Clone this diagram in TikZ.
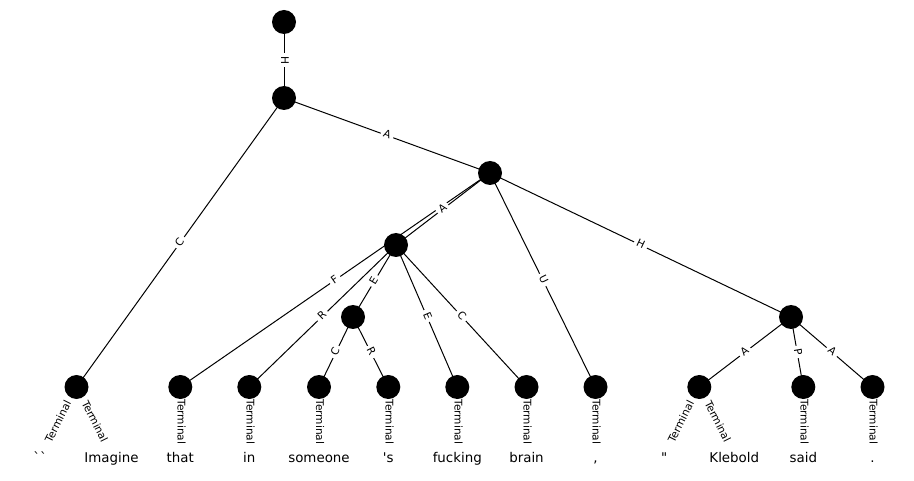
\documentclass[tikz,border=0pt]{standalone}
\usepackage{fontspec}
\newfontfamily\dv{DejaVu Sans}
\begin{document}
\begin{tikzpicture}[x=1pt,y=-1pt,
  vtx/.style={circle, fill=black, minimum size=24pt, inner sep=0pt},
  edg/.style={line width=1pt, black},
  lbl/.style={fill=white, rounded corners=2pt, inner xsep=3pt, inner ysep=1.5pt,
    font=\dv\fontsize{10.6}{13}\selectfont, text height=8.1pt, text depth=2.5pt},
  word/.style={fill=white, inner xsep=1pt, inner ysep=0pt, anchor=base,
    font=\dv\fontsize{13.4}{16}\selectfont, text height=19.6pt, text depth=3.5pt}]
\useasboundingbox (0,0) rectangle (914,481);
% vertex positions
\coordinate (top) at (284,22);
\coordinate (n1) at (284,98);
\coordinate (n2) at (490,173);
\coordinate (n3) at (396,245);
\coordinate (n4) at (353,317);
\coordinate (n5) at (791,317);
\coordinate (L1) at (76.5,387);
\coordinate (L2) at (180.3,387);
\coordinate (L3) at (249.3,387);
\coordinate (L4) at (319,387);
\coordinate (L5) at (388.3,387);
\coordinate (L6) at (457.3,387);
\coordinate (L7) at (526.5,387);
\coordinate (L8) at (595.5,387);
\coordinate (L9) at (699.3,387);
\coordinate (L10) at (803.3,387);
\coordinate (L11) at (872.5,387);
% word positions
\coordinate (w1) at (41.5,457);
\coordinate (w2) at (111.5,457);
\coordinate (w3) at (180.3,457);
\coordinate (w4) at (249.3,457);
\coordinate (w5) at (319,457);
\coordinate (w6) at (388.3,457);
\coordinate (w7) at (457.3,457);
\coordinate (w8) at (526.5,457);
\coordinate (w9) at (595.5,457);
\coordinate (w10) at (664.3,457);
\coordinate (w11) at (734.3,457);
\coordinate (w12) at (803.3,457);
\coordinate (w13) at (872.5,457);
% edges
\draw[edg] (top) -- (n1);
\draw[edg] (n1) -- (n2);
\draw[edg] (n1) -- (L1);
\draw[edg] (n2) -- (n3);
\draw[edg] (n2) -- (L2);
\draw[edg] (n2) -- (L8);
\draw[edg] (n2) -- (n5);
\draw[edg] (n3) -- (L3);
\draw[edg] (n3) -- (n4);
\draw[edg] (n3) -- (L6);
\draw[edg] (n3) -- (L7);
\draw[edg] (n4) -- (L4);
\draw[edg] (n4) -- (L5);
\draw[edg] (n5) -- (L9);
\draw[edg] (n5) -- (L10);
\draw[edg] (n5) -- (L11);
% edge labels
\path (top) -- (n1) node[midway, rotate=-90, lbl] (eH1) {H};
\path (n1) -- (n2) node[midway, sloped, lbl] (eA1) {A};
\path (n1) -- (L1) node[midway, sloped, lbl] (eC1) {C};
\path (n2) -- (n3) node[midway, sloped, lbl] (eA2) {A};
\path (n2) -- (L2) node[midway, sloped, lbl] (eF) {F};
\path (n2) -- (L8) node[midway, sloped, lbl] (eU) {U};
\path (n2) -- (n5) node[midway, sloped, lbl] (eH2) {H};
\path (n3) -- (L3) node[midway, sloped, lbl] (eR1) {R};
\path (n3) -- (n4) node[midway, sloped, lbl] (eE1) {E};
\path (n3) -- (L6) node[midway, sloped, lbl] (eE2) {E};
\path (n3) -- (L7) node[midway, sloped, lbl] (eC2) {C};
\path (n4) -- (L4) node[midway, sloped, lbl] (eC3) {C};
\path (n4) -- (L5) node[midway, sloped, lbl] (eR2) {R};
\path (n5) -- (L9) node[midway, sloped, lbl] (eA3) {A};
\path (n5) -- (L10) node[midway, sloped, lbl] (eP) {P};
\path (n5) -- (L11) node[midway, sloped, lbl] (eA4) {A};
% terminal labels
\path (L1) -- (w1) node[midway, sloped, lbl] (t1) {Terminal};
\path (L1) -- (w2) node[midway, sloped, lbl] (t2) {Terminal};
\path (L2) -- (w3) node[midway, rotate=-90, lbl] (t3) {Terminal};
\path (L3) -- (w4) node[midway, rotate=-90, lbl] (t4) {Terminal};
\path (L4) -- (w5) node[midway, rotate=-90, lbl] (t5) {Terminal};
\path (L5) -- (w6) node[midway, rotate=-90, lbl] (t6) {Terminal};
\path (L6) -- (w7) node[midway, rotate=-90, lbl] (t7) {Terminal};
\path (L7) -- (w8) node[midway, rotate=-90, lbl] (t8) {Terminal};
\path (L8) -- (w9) node[midway, rotate=-90, lbl] (t9) {Terminal};
\path (L9) -- (w10) node[midway, sloped, lbl] (t10) {Terminal};
\path (L9) -- (w11) node[midway, sloped, lbl] (t11) {Terminal};
\path (L10) -- (w12) node[midway, rotate=-90, lbl] (t12) {Terminal};
\path (L11) -- (w13) node[midway, rotate=-90, lbl] (t13) {Terminal};
% words
\node[word, text height=15pt] (x1) at (40,462.3) {\char"60\char"60};
\node[word] (x2) at (111.5,462.3) {Imagine};
\node[word] (x3) at (180.3,462.3) {that};
\node[word] (x4) at (249.3,462.3) {in};
\node[word] (x5) at (319,462.3) {someone};
\node[word] (x6) at (388.3,462.3) {\char"27 s};
\node[word] (x7) at (457.3,462.3) {fucking};
\node[word] (x8) at (526.5,462.3) {brain};
\node[word] (x9) at (595.5,462.3) {,};
\node[word, text height=15pt] (x10) at (664.3,462.3) {\char"22};
\node[word] (x11) at (734.3,462.3) {Klebold};
\node[word] (x12) at (803.3,462.3) {said};
\node[word] (x13) at (872.5,462.3) {.};
% vertices
\foreach \v in {top,n1,n2,n3,n4,n5,L1,L2,L3,L4,L5,L6,L7,L8,L9,L10,L11}
  \node[vtx] (v\v) at (\v) {};
\end{tikzpicture}
\end{document}
